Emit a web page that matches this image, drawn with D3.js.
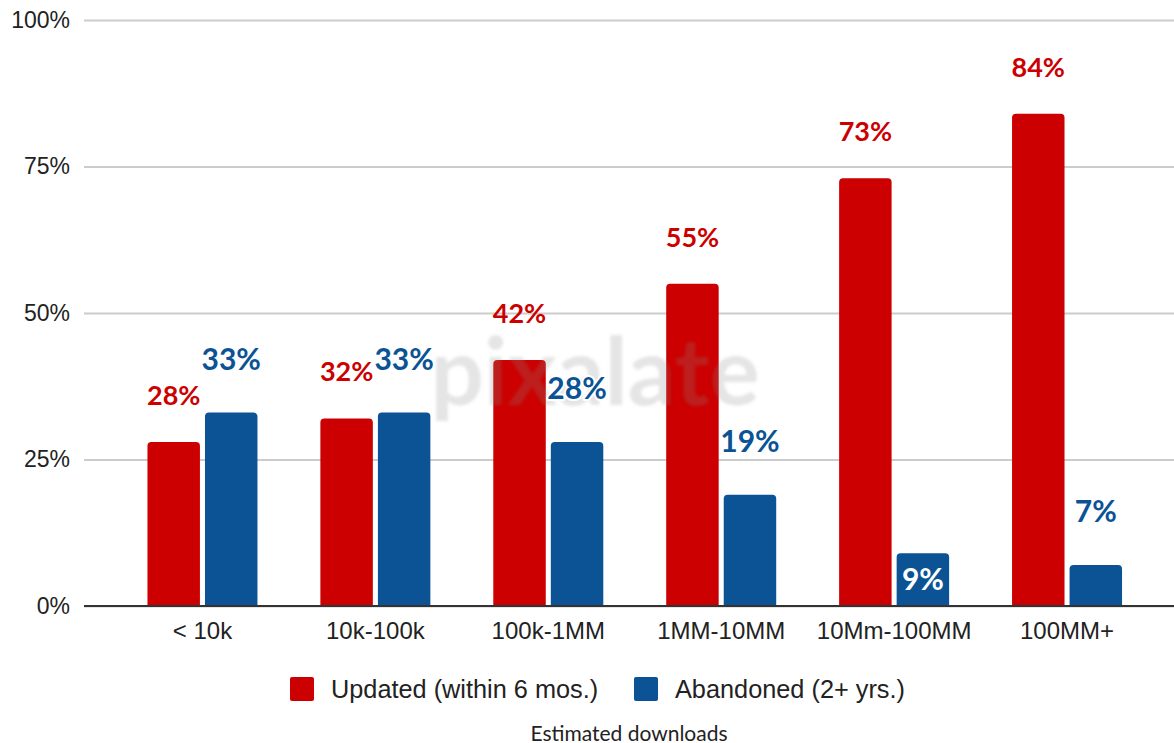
<!DOCTYPE html>
<html>
<head>
<meta charset="utf-8">
<script src="https://cdn.jsdelivr.net/npm/d3@7"></script>
<style>
  html, body { margin: 0; padding: 0; background: #ffffff; }
  svg { display: block; }
</style>
</head>
<body>
<svg id="chart" width="1174" height="743"></svg>
<script>
// Share of apps by estimated download tier
const categories = ["< 10k", "10k-100k", "100k-1MM", "1MM-10MM", "10Mm-100MM", "100MM+"];
const seriesNames = ["Updated (within 6 mos.)", "Abandoned (2+ yrs.)"];
const updatedValues = [28, 32, 42, 55, 73, 84];
const abandonedValues = [33, 33, 28, 19, 9, 7];
const yTicks = [0, 25, 50, 75, 100];
const xAxisTitle = "Estimated downloads";
const watermarkText = "pixalate";

const colors = ["#cc0000", "#0b5394"];
const seriesValues = [updatedValues, abandonedValues];

const svg = d3.select("#chart");

const y = d3.scaleLinear().domain([0, 100]).range([606, 20]);
const x0 = d3.scaleBand().domain(categories).range([116, 1153.5]).padding(0);
const groupWidth = 110;
const x1 = d3.scaleBand().domain(seriesNames).range([0, groupWidth]).paddingInner(5 / 57).paddingOuter(0);
const groupLeft = c => x0(c) + (x0.bandwidth() - groupWidth) / 2;

// gridlines + tick labels
const yAxis = d3.axisLeft(y).tickValues(yTicks).tickFormat(d => d + "%").tickSize(0).tickPadding(14);
const gy = svg.append("g").attr("transform", "translate(84,0)").call(yAxis);
gy.select(".domain").remove();
gy.selectAll("text")
  .attr("font-family", "Liberation Sans, Arial, sans-serif")
  .attr("font-size", 23)
  .attr("fill", "#222");
gy.selectAll(".tick").append("line")
  .attr("x1", 0).attr("x2", 1174 - 84)
  .attr("stroke", "#cccccc").attr("stroke-width", 2);

// bars with rounded top corners
function topRounded(xp, yp, w, h, r) {
  r = Math.min(r, h, w / 2);
  return `M${xp},${yp + h}V${yp + r}Q${xp},${yp} ${xp + r},${yp}H${xp + w - r}Q${xp + w},${yp} ${xp + w},${yp + r}V${yp + h}Z`;
}

const barData = [];
categories.forEach((c, i) => {
  seriesNames.forEach((s, j) => {
    barData.push({ cat: c, series: s, si: j, ci: i, value: seriesValues[j][i] });
  });
});

svg.append("g").selectAll("path")
  .data(barData)
  .join("path")
  .attr("d", d => topRounded(groupLeft(d.cat) + x1(d.series), y(d.value), x1.bandwidth(), y(0) - y(d.value), 4))
  .attr("fill", d => colors[d.si]);

// watermark
const defs = svg.append("defs");
defs.append("filter").attr("id", "soft").append("feGaussianBlur").attr("stdDeviation", 1.8);
svg.append("text")
  .attr("x", 595).attr("y", 405)
  .attr("text-anchor", "middle")
  .attr("font-family", "Lato, sans-serif")
  .attr("font-weight", 700)
  .attr("font-size", 94)
  .attr("fill", "#8a8a8a")
  .attr("fill-opacity", 0.22)
  .attr("filter", "url(#soft)")
  .text(watermarkText);

// baseline
svg.append("line")
  .attr("x1", 84).attr("x2", 1174)
  .attr("y1", y(0)).attr("y2", y(0))
  .attr("stroke", "#333333").attr("stroke-width", 2);

// value labels
const labelInside = d => d.si === 1 && d.ci === 4;
svg.append("g").selectAll("text")
  .data(barData)
  .join("text")
  .attr("x", d => groupLeft(d.cat) + x1(d.series) + x1.bandwidth() / 2)
  .attr("y", d => labelInside(d) ? y(d.value) + 37 : y(d.value) - (d.si === 0 ? 37 : 43))
  .attr("text-anchor", "middle")
  .attr("font-family", "Lato, sans-serif")
  .attr("font-weight", 700)
  .attr("font-size", d => d.si === 0 ? 27 : 30)
  .attr("fill", d => labelInside(d) ? "#ffffff" : colors[d.si])
  .attr("stroke", d => d.si === 1 && !labelInside(d) ? "#ffffff" : "none")
  .attr("stroke-width", 4)
  .attr("stroke-linejoin", "round")
  .attr("paint-order", "stroke")
  .text(d => d.value + "%");

// category axis
const xAxis = d3.axisBottom(x0).tickSize(0).tickPadding(16);
const gx = svg.append("g").attr("transform", `translate(0,${y(0)})`).call(xAxis);
gx.select(".domain").remove();
gx.selectAll("text")
  .attr("font-family", "Liberation Sans, Arial, sans-serif")
  .attr("font-size", 24)
  .attr("fill", "#222");

// legend
const legendItems = [
  { name: seriesNames[0], color: colors[0], x: 290 },
  { name: seriesNames[1], color: colors[1], x: 634 }
];
const lg = svg.append("g");
legendItems.forEach(item => {
  lg.append("rect")
    .attr("x", item.x).attr("y", 677)
    .attr("width", 24).attr("height", 24)
    .attr("rx", 2)
    .attr("fill", item.color);
  lg.append("text")
    .attr("x", item.x + 41).attr("y", 698)
    .attr("font-family", "Liberation Sans, Arial, sans-serif")
    .attr("font-size", 25.3)
    .attr("fill", "#222")
    .text(item.name);
});

// axis title
svg.append("text")
  .attr("x", 629).attr("y", 741)
  .attr("text-anchor", "middle")
  .attr("font-family", "Lato, sans-serif")
  .attr("font-size", 21)
  .attr("fill", "#222")
  .text(xAxisTitle);
</script>
</body>
</html>
